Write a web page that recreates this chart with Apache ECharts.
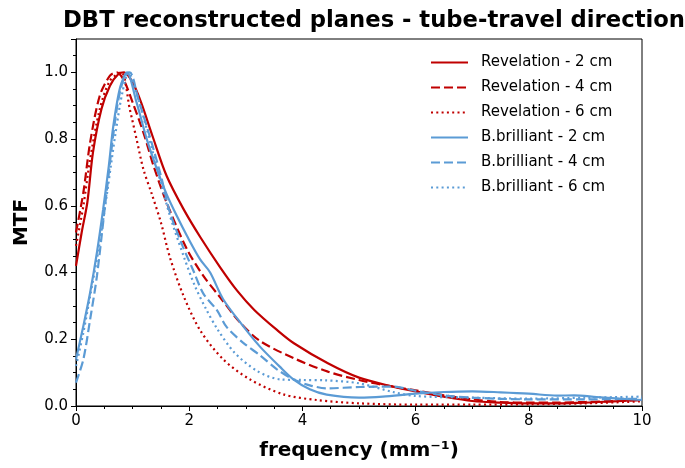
<!DOCTYPE html>
<html lang="en">
  <head>
    <meta charset="UTF-8" />
    <title>DBT reconstructed planes - tube-travel direction</title>
    <script src="https://cdn.jsdelivr.net/npm/echarts/dist/echarts.min.js"></script>
    <style>
      html, body { margin: 0; padding: 0; background: #fff; }
    </style>
  </head>
  <body>
    <div id="chart" style="width: 685px; height: 468px"></div>

    <script>
      // series names
      const names = [
        "Revelation - 2 cm",
        "Revelation - 4 cm",
        "Revelation - 6 cm",
        "B.brilliant - 2 cm",
        "B.brilliant - 4 cm",
        "B.brilliant - 6 cm",
      ];

      // Revelation - 2 cm
      const rev2X = [0, 0.1, 0.2, 0.3, 0.45, 0.6, 0.75, 0.85, 1.0, 1.15, 1.35, 1.6, 1.9, 2.2, 2.55, 2.85, 3.15, 3.55, 3.85, 4.45, 5.0, 5.6, 6.0, 6.5, 7.0, 7.5, 8.0, 8.5, 9.0, 9.5, 10];
      const rev2Y = [0.42, 0.52, 0.61, 0.76, 0.89, 0.96, 0.995, 1.0, 0.97, 0.91, 0.81, 0.69, 0.59, 0.505, 0.415, 0.345, 0.288, 0.228, 0.188, 0.128, 0.085, 0.058, 0.044, 0.028, 0.015, 0.01, 0.008, 0.008, 0.01, 0.014, 0.018];

      // Revelation - 4 cm
      const rev4X = [0, 0.13, 0.25, 0.42, 0.6, 0.72, 0.85, 1.0, 1.2, 1.37, 1.6, 1.96, 2.25, 2.55, 2.9, 3.25, 3.85, 4.45, 5.0, 5.6, 6.0, 6.5, 7.0, 7.5, 8.0, 8.5, 9.0, 9.5, 10];
      const rev4Y = [0.52, 0.64, 0.79, 0.93, 0.99, 1.0, 0.975, 0.91, 0.815, 0.72, 0.61, 0.47, 0.39, 0.325, 0.25, 0.195, 0.143, 0.103, 0.078, 0.058, 0.047, 0.032, 0.02, 0.012, 0.01, 0.01, 0.012, 0.015, 0.018];

      // Revelation - 6 cm
      const rev6X = [0, 0.13, 0.25, 0.42, 0.6, 0.8, 0.95, 1.07, 1.19, 1.34, 1.5, 1.66, 1.9, 2.2, 2.6, 3.07, 3.66, 4.25, 5.0, 6.0, 7.0, 8.0, 9.0, 10];
      const rev6Y = [0.48, 0.6, 0.74, 0.89, 0.975, 1.0, 0.89, 0.8, 0.71, 0.635, 0.55, 0.445, 0.33, 0.225, 0.14, 0.08, 0.035, 0.018, 0.008, 0.004, 0.004, 0.005, 0.008, 0.014];

      // B.brilliant - 2 cm
      const bb2X = [0, 0.13, 0.25, 0.37, 0.48, 0.58, 0.66, 0.78, 0.9, 1.07, 1.25, 1.43, 1.6, 1.78, 1.96, 2.19, 2.37, 2.6, 2.95, 3.25, 3.6, 3.84, 4.13, 4.43, 5.0, 5.42, 6.0, 6.5, 7.0, 7.5, 8.0, 8.5, 8.8, 9.2, 9.6, 10];
      const bb2Y = [0.14, 0.24, 0.34, 0.46, 0.59, 0.72, 0.84, 0.955, 1.0, 0.91, 0.8, 0.71, 0.635, 0.57, 0.51, 0.44, 0.4, 0.32, 0.24, 0.178, 0.118, 0.08, 0.05, 0.034, 0.025, 0.028, 0.037, 0.042, 0.044, 0.041, 0.037, 0.031, 0.032, 0.027, 0.022, 0.018];

      // B.brilliant - 4 cm
      const bb4X = [0, 0.13, 0.25, 0.37, 0.54, 0.72, 0.85, 0.95, 1.1, 1.3, 1.5, 1.66, 1.89, 2.07, 2.25, 2.49, 2.66, 2.95, 3.25, 3.55, 3.84, 4.13, 4.43, 5.02, 5.6, 6.02, 6.5, 7.0, 8.0, 9.0, 10];
      const bb4Y = [0.07, 0.14, 0.26, 0.39, 0.64, 0.89, 0.985, 1.0, 0.92, 0.81, 0.69, 0.58, 0.477, 0.407, 0.337, 0.287, 0.237, 0.19, 0.152, 0.11, 0.08, 0.062, 0.053, 0.057, 0.058, 0.045, 0.032, 0.025, 0.02, 0.02, 0.022];

      // B.brilliant - 6 cm
      const bb6X = [0, 0.13, 0.25, 0.4, 0.55, 0.7, 0.82, 0.93, 1.05, 1.25, 1.45, 1.66, 1.9, 2.1, 2.3, 2.5, 2.8, 3.2, 3.6, 4.0, 4.4, 5.0, 5.6, 6.0, 7.0, 8.0, 9.0, 10];
      const bb6Y = [0.12, 0.22, 0.33, 0.47, 0.64, 0.82, 0.94, 1.0, 0.95, 0.83, 0.7, 0.57, 0.45, 0.36, 0.29, 0.23, 0.16, 0.105, 0.08, 0.078, 0.077, 0.068, 0.042, 0.03, 0.025, 0.022, 0.025, 0.028];

      const red = "#c00000";
      const blue = "#5b9bd5";
      const font = "DejaVu Sans";

      function pairs(xs, ys) {
        return xs.map((x, i) => [x, ys[i]]);
      }

      function makeSeries(name, xs, ys, color, dash) {
        return {
          name: name,
          type: "line",
          data: pairs(xs, ys),
          smooth: 0.3,
          symbol: "none",
          showSymbol: false,
          lineStyle: { color: color, width: 2.2, type: dash, cap: "butt" },
          itemStyle: { color: color },
        };
      }

      const dashed = [9, 4];
      const dotted = [2, 3.3];

      var chart = echarts.init(document.getElementById("chart"));
      var option = {
        animation: false,
        backgroundColor: "#fff",
        title: {
          text: "DBT reconstructed planes - tube-travel direction",
          left: 369,
          top: 5,
          textAlign: "center",
          textStyle: { fontFamily: font, fontWeight: "bold", fontSize: 22.7, color: "#000" },
        },
        grid: {
          left: 76,
          right: 43,
          top: 39,
          bottom: 62,
          show: true,
          borderColor: "#000",
          borderWidth: 1,
        },
        legend: {
          data: names,
          orient: "vertical",
          left: 430,
          top: 54,
          padding: 0,
          itemWidth: 37,
          itemHeight: 17,
          itemGap: 8,
          itemStyle: { opacity: 0 },
          textStyle: { fontFamily: font, fontSize: 15, color: "#000", lineHeight: 17, padding: [0, 0, 0, 8] },
        },
        xAxis: {
          type: "value",
          min: 0,
          max: 10,
          interval: 2,
          name: "frequency (mm⁻¹)",
          nameLocation: "middle",
          nameGap: 35,
          nameTextStyle: { fontFamily: font, fontWeight: "bold", fontSize: 20, color: "#000" },
          axisLine: { lineStyle: { color: "#000", width: 1 } },
          axisTick: { length: 5, lineStyle: { color: "#000" } },
          minorTick: { show: true, splitNumber: 4, length: 3, lineStyle: { color: "#000" } },
          splitLine: { show: false },
          axisLabel: { fontFamily: font, fontSize: 15, color: "#000", margin: 8 },
        },
        yAxis: {
          type: "value",
          min: 0,
          max: 1.1,
          interval: 0.2,
          name: "MTF",
          nameLocation: "middle",
          nameGap: 44,
          nameTextStyle: { fontFamily: font, fontWeight: "bold", fontSize: 20, color: "#000" },
          axisLine: { show: true, lineStyle: { color: "#000", width: 1 } },
          axisTick: { show: true, length: 5, lineStyle: { color: "#000" } },
          minorTick: { show: true, splitNumber: 4, length: 3, lineStyle: { color: "#000" } },
          splitLine: { show: false },
          axisLabel: {
            fontFamily: font,
            fontSize: 15,
            color: "#000",
            margin: 8,
            showMaxLabel: false,
            formatter: (v) => v.toFixed(1),
          },
        },
        series: [
          makeSeries(names[0], rev2X, rev2Y, red, "solid"),
          makeSeries(names[1], rev4X, rev4Y, red, dashed),
          makeSeries(names[2], rev6X, rev6Y, red, dotted),
          makeSeries(names[3], bb2X, bb2Y, blue, "solid"),
          makeSeries(names[4], bb4X, bb4Y, blue, dashed),
          makeSeries(names[5], bb6X, bb6Y, blue, dotted),
        ],
      };

      option && chart.setOption(option);
    </script>
  </body>
</html>
